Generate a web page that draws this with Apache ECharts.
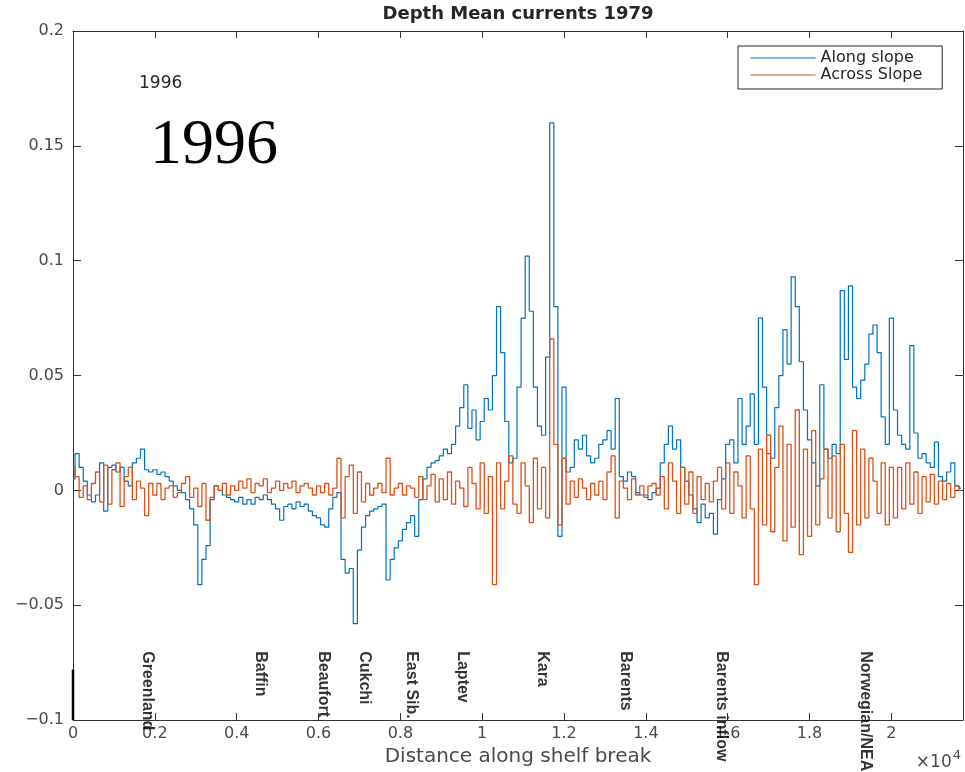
<!DOCTYPE html>
<html>
<head>
<meta charset="utf-8">
<title>Depth Mean currents 1979</title>
<script src="https://cdn.jsdelivr.net/npm/echarts@6/dist/echarts.min.js"></script>
<style>
  html, body { margin: 0; padding: 0; background: #ffffff; }
  #chart { width: 965px; height: 772px; }
</style>
</head>
<body>
<div id="chart"></div>
<script>
// Distance along the shelf break (m), sampled every 100 m
const distance = [
  0, 100, 200, 300, 400, 500, 600, 700, 800, 900,
  1000, 1100, 1200, 1300, 1400, 1500, 1600, 1700, 1800, 1900,
  2000, 2100, 2200, 2300, 2400, 2500, 2600, 2700, 2800, 2900,
  3000, 3100, 3200, 3300, 3400, 3500, 3600, 3700, 3800, 3900,
  4000, 4100, 4200, 4300, 4400, 4500, 4600, 4700, 4800, 4900,
  5000, 5100, 5200, 5300, 5400, 5500, 5600, 5700, 5800, 5900,
  6000, 6100, 6200, 6300, 6400, 6500, 6600, 6700, 6800, 6900,
  7000, 7100, 7200, 7300, 7400, 7500, 7600, 7700, 7800, 7900,
  8000, 8100, 8200, 8300, 8400, 8500, 8600, 8700, 8800, 8900,
  9000, 9100, 9200, 9300, 9400, 9500, 9600, 9700, 9800, 9900,
  10000, 10100, 10200, 10300, 10400, 10500, 10600, 10700, 10800, 10900,
  11000, 11100, 11200, 11300, 11400, 11500, 11600, 11700, 11800, 11900,
  12000, 12100, 12200, 12300, 12400, 12500, 12600, 12700, 12800, 12900,
  13000, 13100, 13200, 13300, 13400, 13500, 13600, 13700, 13800, 13900,
  14000, 14100, 14200, 14300, 14400, 14500, 14600, 14700, 14800, 14900,
  15000, 15100, 15200, 15300, 15400, 15500, 15600, 15700, 15800, 15900,
  16000, 16100, 16200, 16300, 16400, 16500, 16600, 16700, 16800, 16900,
  17000, 17100, 17200, 17300, 17400, 17500, 17600, 17700, 17800, 17900,
  18000, 18100, 18200, 18300, 18400, 18500, 18600, 18700, 18800, 18900,
  19000, 19100, 19200, 19300, 19400, 19500, 19600, 19700, 19800, 19900,
  20000, 20100, 20200, 20300, 20400, 20500, 20600, 20700, 20800, 20900,
  21000, 21100, 21200, 21300, 21400, 21500, 21600, 21700
];

// Depth-mean velocity component along the slope (m/s)
const alongSlope = [
  0.005, 0.016, 0.010, 0.004, -0.002, -0.005, -0.002, 0.012, -0.009, 0.010,
  0.011, 0.008, 0.010, 0.004, 0.002, 0.012, 0.014, 0.018, 0.009, 0.008,
  0.009, 0.007, 0.008, 0.006, 0.004, 0.002, 0.000, -0.001, -0.004, -0.008,
  -0.015, -0.041, -0.030, -0.024, -0.004, 0.002, 0.000, -0.002, -0.003, -0.004,
  -0.005, -0.003, -0.006, -0.004, -0.006, -0.003, -0.004, -0.002, -0.004, -0.006,
  -0.008, -0.013, -0.007, -0.006, -0.008, -0.005, -0.007, -0.006, -0.009, -0.011,
  -0.012, -0.015, -0.016, -0.008, -0.003, -0.001, -0.030, -0.036, -0.034, -0.058,
  -0.026, -0.016, -0.011, -0.009, -0.008, -0.007, -0.006, -0.039, -0.030, -0.025,
  -0.022, -0.017, -0.014, -0.011, -0.020, -0.004, 0.005, 0.010, 0.012, 0.013,
  0.015, 0.018, 0.016, 0.020, 0.028, 0.036, 0.046, 0.027, 0.035, 0.022,
  0.030, 0.040, 0.035, 0.050, 0.080, 0.060, 0.030, 0.012, 0.014, 0.045,
  0.075, 0.102, 0.078, 0.045, 0.028, 0.024, 0.058, 0.160, 0.080, -0.020,
  0.045, 0.008, 0.010, 0.022, 0.018, 0.024, 0.015, 0.012, 0.014, 0.020,
  0.022, 0.026, 0.018, 0.040, 0.006, 0.004, 0.008, 0.006, -0.001, -0.002,
  -0.002, -0.004, -0.001, 0.001, 0.012, 0.020, 0.028, 0.018, 0.022, 0.010,
  0.004, -0.002, -0.008, -0.014, -0.006, -0.012, -0.010, -0.019, -0.004, 0.005,
  0.020, 0.022, 0.012, 0.040, 0.020, 0.028, 0.042, 0.020, 0.075, 0.045,
  0.016, 0.014, 0.036, 0.050, 0.070, 0.055, 0.093, 0.080, 0.056, 0.035,
  0.022, 0.012, 0.002, 0.046, 0.018, 0.014, 0.020, 0.016, 0.087, 0.057,
  0.089, 0.045, 0.040, 0.048, 0.055, 0.068, 0.072, 0.060, 0.032, 0.020,
  0.075, 0.035, 0.024, 0.020, 0.018, 0.063, 0.025, 0.014, 0.016, 0.012,
  0.010, 0.021, 0.006, 0.004, 0.008, 0.012, 0.002, 0.001
];

// Depth-mean velocity component across the slope (m/s)
const acrossSlope = [
  0.010, 0.006, -0.003, 0.002, -0.004, 0.003, 0.008, -0.005, 0.011, -0.006,
  0.009, 0.012, -0.007, 0.006, 0.010, -0.004, 0.004, 0.001, -0.011, 0.003,
  -0.002, 0.003, -0.004, 0.001, 0.002, -0.003, -0.001, 0.003, 0.006, -0.003,
  0.001, -0.007, 0.003, -0.013, -0.003, 0.002, 0.000, 0.003, -0.002, 0.002,
  0.000, 0.004, 0.001, 0.005, -0.001, 0.003, 0.002, 0.005, -0.001, 0.001,
  0.004, 0.000, 0.003, 0.001, 0.004, -0.001, 0.002, 0.003, 0.001, -0.002,
  0.002, -0.001, 0.003, -0.002, 0.001, 0.014, -0.012, 0.006, 0.011, -0.010,
  0.008, -0.005, 0.003, -0.002, 0.001, 0.003, -0.001, 0.014, -0.002, 0.001,
  0.003, -0.002, 0.002, 0.001, -0.003, 0.006, -0.004, 0.002, 0.007, -0.005,
  0.005, -0.004, 0.008, -0.006, 0.004, 0.001, -0.007, 0.010, 0.003, -0.008,
  0.012, -0.010, 0.006, -0.041, 0.012, -0.008, 0.004, 0.015, -0.006, -0.010,
  0.012, 0.002, -0.014, 0.014, -0.008, 0.010, -0.012, 0.066, 0.020, -0.015,
  0.014, -0.006, 0.004, -0.003, 0.005, 0.001, -0.004, 0.003, -0.002, 0.004,
  -0.004, 0.008, 0.015, -0.012, 0.004, 0.001, -0.004, 0.005, -0.002, 0.002,
  -0.003, 0.002, 0.003, -0.002, 0.006, -0.008, 0.012, 0.004, -0.010, 0.010,
  -0.006, 0.008, -0.010, 0.006, -0.004, 0.003, -0.005, 0.004, 0.010, -0.008,
  0.012, -0.010, 0.008, 0.002, -0.012, 0.015, -0.008, -0.041, 0.018, -0.015,
  0.024, -0.018, 0.010, 0.028, -0.022, 0.020, -0.016, 0.035, -0.028, 0.018,
  -0.020, 0.026, -0.015, 0.005, 0.018, -0.012, 0.015, -0.018, 0.020, -0.010,
  -0.027, 0.026, -0.015, 0.018, -0.012, 0.014, 0.004, -0.010, 0.012, -0.015,
  0.010, -0.012, 0.010, -0.008, 0.012, -0.006, 0.008, -0.010, 0.006, -0.005,
  0.007, -0.006, 0.004, -0.004, 0.003, -0.003, 0.002, 0.000
];

// Shelf-sea region names and where their labels sit along the break
const regionNames = ['Greenland', 'Baffin', 'Beaufort', 'Cukchi', 'East Sib.', 'Laptev',
  'Kara', 'Barents', 'Barents inflow', 'Norwegian/NEA'];
const regionDistance = [1830, 4590, 6120, 7120, 8270, 9510, 11460, 13510, 15850, 19370];
const regionLabelLevel = -0.07;

// Short reference bar at the start of the section
const startBar = [[0, -0.1], [0, -0.078]];

const yTicks = { min: -0.1, max: 0.2, step: 0.05 };
const xTicks = { min: 0, max: 21750, step: 2000 };

const chart = echarts.init(document.getElementById('chart'), null, { renderer: 'canvas' });

const axisColor = '#333333';
const labelColor = '#4a4a4a';
const sans = "'DejaVu Sans', 'Liberation Sans', sans-serif";
const alongColor = '#0072BD';
const acrossColor = '#D95319';

function fmtY(v) {
  const r = Math.round(v * 1000) / 1000;
  return String(r).replace('-', '\u2212');
}
function fmtX(v) {
  return String(Math.round(v / 1000) / 10);
}

const baseX = {
  type: 'value', min: xTicks.min, max: xTicks.max, interval: xTicks.step,
  splitLine: { show: false },
  axisLine: { show: true, onZero: false, lineStyle: { color: axisColor, width: 1 } },
  axisTick: { show: true, inside: true, length: 7, lineStyle: { color: axisColor } }
};
const baseY = {
  type: 'value', min: yTicks.min, max: yTicks.max, interval: yTicks.step,
  splitLine: { show: false },
  axisLine: { show: true, onZero: false, lineStyle: { color: axisColor, width: 1 } },
  axisTick: { show: true, inside: true, length: 8, lineStyle: { color: axisColor } }
};

const option = {
  backgroundColor: '#ffffff',
  animation: false,
  title: {
    text: 'Depth Mean currents 1979',
    left: 518, textAlign: 'center', top: 5, padding: 0,
    textStyle: { fontFamily: sans, fontWeight: 'bold', fontSize: 18, color: '#262626' }
  },
  legend: {
    data: [
      { name: 'Along slope', lineStyle: { color: alongColor, width: 1.2 } },
      { name: 'Across Slope', lineStyle: { color: acrossColor, width: 1.2 } }
    ],
    orient: 'vertical',
    left: 738, top: 46,
    padding: [4, 20, 6, 12],
    itemWidth: 65, itemHeight: 14, itemGap: 1, itemTextGap: 7,
    itemStyle: { opacity: 0 },
    borderColor: '#262626', borderWidth: 1, borderRadius: 0,
    backgroundColor: '#ffffff',
    textStyle: { fontFamily: sans, fontSize: 16, color: '#262626' }
  },
  grid: { left: 73, right: 2, top: 31, bottom: 49, containLabel: false },
  xAxis: [
    Object.assign({}, baseX, {
      position: 'bottom',
      name: 'Distance along shelf break',
      nameLocation: 'middle', nameGap: 23,
      nameTextStyle: { fontFamily: sans, fontSize: 20, color: labelColor },
      axisLabel: {
        show: true, margin: 6, fontFamily: sans, fontSize: 16, color: labelColor,
        showMaxLabel: false, formatter: fmtX
      }
    }),
    Object.assign({}, baseX, { position: 'top', axisLabel: { show: false } })
  ],
  yAxis: [
    Object.assign({}, baseY, {
      position: 'left',
      axisLabel: { show: true, margin: 9, fontFamily: sans, fontSize: 16, color: labelColor, formatter: fmtY }
    }),
    Object.assign({}, baseY, { position: 'right', axisLabel: { show: false } })
  ],
  graphic: [
    {
      type: 'text', left: 139, top: 75,
      style: { text: '1996', fontFamily: sans, fontSize: 17, fill: '#262626' }
    },
    {
      type: 'text', left: 150, top: 114,
      style: { text: '1996', fontFamily: "'Liberation Serif', 'DejaVu Serif', serif", fontSize: 64, fill: '#000000' }
    },
    {
      type: 'text', right: 4, top: 749,
      style: {
        text: '{m|\u00d710}{s|4}',
        rich: {
          m: { fontFamily: sans, fontSize: 17, fill: labelColor, padding: [8, 0, 0, 0] },
          s: { fontFamily: sans, fontSize: 13, fill: labelColor, padding: [0, 0, 6, 1] }
        }
      }
    }
  ],
  series: [
    {
      name: 'Along slope', type: 'line', step: 'middle',
      xAxisIndex: 0, yAxisIndex: 0,
      data: distance.map((d, i) => [d, alongSlope[i]]),
      showSymbol: false, symbol: 'none',
      lineStyle: { color: alongColor, width: 1.2 },
      itemStyle: { color: alongColor },
      z: 2
    },
    {
      name: 'Across Slope', type: 'line', step: 'middle',
      xAxisIndex: 0, yAxisIndex: 0,
      data: distance.map((d, i) => [d, acrossSlope[i]]),
      showSymbol: false, symbol: 'none',
      lineStyle: { color: acrossColor, width: 1.3 },
      itemStyle: { color: acrossColor },
      z: 3
    },
    {
      name: 'start', type: 'line',
      data: startBar, showSymbol: false, symbol: 'none',
      lineStyle: { color: '#000000', width: 2.5 },
      z: 4, silent: true
    },
    {
      name: 'regions', type: 'scatter',
      data: regionDistance.map((d, i) => ({ value: [d, regionLabelLevel], name: regionNames[i] })),
      symbolSize: 0, silent: true, z: 5,
      label: {
        show: true, position: 'inside', rotate: -90, align: 'left', verticalAlign: 'middle',
        formatter: p => p.name,
        fontFamily: "'Liberation Sans', Arial, sans-serif", fontWeight: 'bold', fontSize: 16, color: '#000000'
      }
    }
  ]
};

chart.setOption(option);
</script>
</body>
</html>
